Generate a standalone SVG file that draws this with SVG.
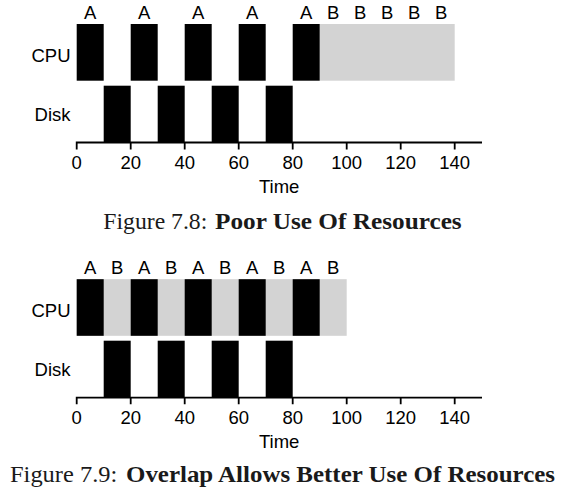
<svg xmlns="http://www.w3.org/2000/svg" width="566" height="492" viewBox="0 0 566 492">
<style>
.blk{fill:#000}
.gry{fill:#d3d3d3}
.ax{stroke:#000;stroke-width:1.8;fill:none}
.t{font-family:"Liberation Sans",Arial,sans-serif;font-size:18.5px;fill:#000;text-anchor:middle}
.rl{font-family:"Liberation Sans",Arial,sans-serif;font-size:18.5px;fill:#000;text-anchor:end}
.cap{font-family:"Liberation Serif","Times New Roman",serif;font-size:23px;fill:#1a1a1a}
.capb{font-family:"Liberation Serif","Times New Roman",serif;font-size:23px;font-weight:bold;fill:#1a1a1a}
</style>
<rect width="566" height="492" fill="#fff"/>

<g id="chart-7-8">
  <g id="cpu-row-1">
    <rect class="gry" x="319.7" y="24" width="135" height="56.7"/>
    <rect class="blk" x="76.7" y="24" width="27" height="56.7"/>
    <rect class="blk" x="130.7" y="24" width="27" height="56.7"/>
    <rect class="blk" x="184.7" y="24" width="27" height="56.7"/>
    <rect class="blk" x="238.7" y="24" width="27" height="56.7"/>
    <rect class="blk" x="292.7" y="24" width="27" height="56.7"/>
    <text class="rl" x="70.5" y="62.3">CPU</text>
  </g>
  <g id="disk-row-1">
    <rect class="blk" x="103.7" y="85.7" width="27" height="57"/>
    <rect class="blk" x="157.7" y="85.7" width="27" height="57"/>
    <rect class="blk" x="211.7" y="85.7" width="27" height="57"/>
    <rect class="blk" x="265.7" y="85.7" width="27" height="57"/>
    <text class="rl" x="70.5" y="121">Disk</text>
  </g>
  <g id="labels-1">
    <text class="t" x="90.2" y="19.3">A</text>
    <text class="t" x="144.2" y="19.3">A</text>
    <text class="t" x="198.2" y="19.3">A</text>
    <text class="t" x="252.2" y="19.3">A</text>
    <text class="t" x="306.2" y="19.3">A</text>
    <text class="t" x="333.2" y="19.3">B</text>
    <text class="t" x="360.2" y="19.3">B</text>
    <text class="t" x="387.2" y="19.3">B</text>
    <text class="t" x="414.2" y="19.3">B</text>
    <text class="t" x="441.2" y="19.3">B</text>
  </g>
  <g id="axis-1">
    <path class="ax" d="M75.8 142.5H482M76.7 142.5V149.5M130.7 142.5V149.5M184.7 142.5V149.5M238.7 142.5V149.5M292.7 142.5V149.5M346.7 142.5V149.5M400.7 142.5V149.5M454.7 142.5V149.5"/>
    <text class="t" x="76.7" y="169">0</text>
    <text class="t" x="130.7" y="169">20</text>
    <text class="t" x="184.7" y="169">40</text>
    <text class="t" x="238.7" y="169">60</text>
    <text class="t" x="292.7" y="169">80</text>
    <text class="t" x="346.7" y="169">100</text>
    <text class="t" x="400.7" y="169">120</text>
    <text class="t" x="454.7" y="169">140</text>
    <text class="t" x="279.2" y="193">Time</text>
  </g>
  <g id="caption-1">
    <text class="cap" x="103.3" y="229.3" textLength="104" lengthAdjust="spacingAndGlyphs">Figure 7.8:</text>
    <text class="capb" x="215" y="229.3" textLength="246.7" lengthAdjust="spacingAndGlyphs">Poor Use Of Resources</text>
  </g>
</g>

<g id="chart-7-9">
  <g id="cpu-row-2">
    <rect class="gry" x="76.7" y="279.2" width="270" height="56.6"/>
    <rect class="blk" x="76.7" y="279.2" width="27" height="56.6"/>
    <rect class="blk" x="130.7" y="279.2" width="27" height="56.6"/>
    <rect class="blk" x="184.7" y="279.2" width="27" height="56.6"/>
    <rect class="blk" x="238.7" y="279.2" width="27" height="56.6"/>
    <rect class="blk" x="292.7" y="279.2" width="27" height="56.6"/>
    <text class="rl" x="70.5" y="317.3">CPU</text>
  </g>
  <g id="disk-row-2">
    <rect class="blk" x="103.7" y="340.7" width="27" height="57"/>
    <rect class="blk" x="157.7" y="340.7" width="27" height="57"/>
    <rect class="blk" x="211.7" y="340.7" width="27" height="57"/>
    <rect class="blk" x="265.7" y="340.7" width="27" height="57"/>
    <text class="rl" x="70.5" y="376">Disk</text>
  </g>
  <g id="labels-2">
    <text class="t" x="90.2" y="274.3">A</text>
    <text class="t" x="117.2" y="274.3">B</text>
    <text class="t" x="144.2" y="274.3">A</text>
    <text class="t" x="171.2" y="274.3">B</text>
    <text class="t" x="198.2" y="274.3">A</text>
    <text class="t" x="225.2" y="274.3">B</text>
    <text class="t" x="252.2" y="274.3">A</text>
    <text class="t" x="279.2" y="274.3">B</text>
    <text class="t" x="306.2" y="274.3">A</text>
    <text class="t" x="333.2" y="274.3">B</text>
  </g>
  <g id="axis-2">
    <path class="ax" d="M75.8 397.6H482M76.7 397.6V404.3M130.7 397.6V404.3M184.7 397.6V404.3M238.7 397.6V404.3M292.7 397.6V404.3M346.7 397.6V404.3M400.7 397.6V404.3M454.7 397.6V404.3"/>
    <text class="t" x="76.7" y="424">0</text>
    <text class="t" x="130.7" y="424">20</text>
    <text class="t" x="184.7" y="424">40</text>
    <text class="t" x="238.7" y="424">60</text>
    <text class="t" x="292.7" y="424">80</text>
    <text class="t" x="346.7" y="424">100</text>
    <text class="t" x="400.7" y="424">120</text>
    <text class="t" x="454.7" y="424">140</text>
    <text class="t" x="279.2" y="448.3">Time</text>
  </g>
  <g id="caption-2">
    <text class="cap" x="10" y="481.7" textLength="107.3" lengthAdjust="spacingAndGlyphs">Figure 7.9:</text>
    <text class="capb" x="126" y="481.7" textLength="429" lengthAdjust="spacingAndGlyphs">Overlap Allows Better Use Of Resources</text>
  </g>
</g>
</svg>
